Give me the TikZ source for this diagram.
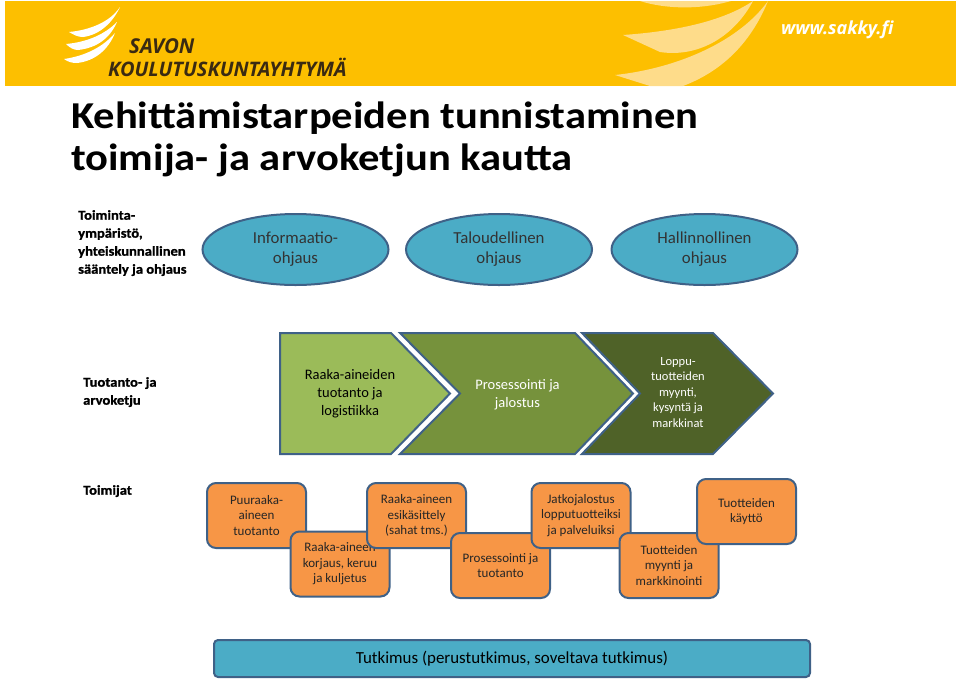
\documentclass[tikz,border=0pt]{standalone}
\usepackage{fontspec}
\setmainfont{Carlito}
\newfontfamily\logofont{Open Sans}
\newfontfamily\titlefont[FakeStretch=1.12]{Carlito Bold}
\newfontfamily\labelfont[FakeStretch=1.08,FakeBold=1.2]{Carlito Bold}
\usetikzlibrary{shapes.geometric}

\definecolor{bannerYellow}{HTML}{FDBF00}
\definecolor{swooshLight}{HTML}{FEDC8A}
\definecolor{logoBrown}{HTML}{3A2A12}
\definecolor{edgeBlue}{HTML}{3F6187}
\definecolor{ovalBlue}{HTML}{4BACC6}
\definecolor{boxOrange}{HTML}{F79646}
\definecolor{chevLight}{HTML}{9BBB59}
\definecolor{chevMiddle}{HTML}{76923C}
\definecolor{chevDark}{HTML}{4F6228}

\newcommand*{\chevTop}{333}
\newcommand*{\chevMid}{393.5}
\newcommand*{\chevBot}{454}

\tikzset{
    oval/.style={ellipse,draw=edgeBlue,line width=2pt,fill=ovalBlue,minimum width=186pt,minimum height=71pt,
        inner sep=0pt,align=center,font=\fontsize{16.8}{20}\selectfont,text=black!80},
    actor/.style={rectangle,rounded corners=9pt,draw=edgeBlue,line width=2pt,fill=boxOrange,minimum width=99pt,
        minimum height=65pt,inner sep=0pt,align=center,font=\fontsize{13}{15.5}\selectfont,text=black!85},
    rowlabel/.style={anchor=north west,inner sep=0pt,align=left,font=\labelfont\fontsize{13.5}{18}\selectfont},
    logotext/.style={anchor=west,inner sep=0pt,font=\logofont\fontsize{#1}{18}\selectfont\bfseries\itshape},
    chev/.style={draw=edgeBlue,line width=2pt,line join=miter},
    chevtext/.style={inner sep=0pt,align=center}
}

\begin{document}
\begin{tikzpicture}[x=1pt,y=-1pt]
    \useasboundingbox (0,0) rectangle (960,681);

    % banner
    \fill [bannerYellow] (5,1) rectangle (956,86);
    \fill [swooshLight] (640,1) .. controls (665,9) and (700,10) .. (731,1) -- cycle;
    \fill [swooshLight] (623,35) .. controls (680,31) and (725,20) .. (753,1) .. controls (735,35) and (700,58) .. (660,52) -- cycle;
    \fill [swooshLight] (615,75) .. controls (680,68) and (740,40) .. (768,1) .. controls (750,45) and (720,72) .. (683,86) -- (650,86) -- cycle;

    % logo
    \fill [white] (120,7) .. controls (110,22) and (90,30) .. (69,32) .. controls (74,35) and (78,37) .. (83,37) .. controls (100,35) and (113,22) .. (120,7) -- cycle;
    \fill [white] (117,22) .. controls (105,34) and (88,42) .. (66,44) .. controls (70,48) and (74,50) .. (78,50) .. controls (97,48) and (110,38) .. (117,22) -- cycle;
    \fill [white] (115,33) .. controls (103,47) and (85,56) .. (64,59) .. controls (68,62) and (72,63) .. (77,63) .. controls (95,61) and (108,50) .. (115,33) -- cycle;
    \node (savon) [logotext=20.5,text=logoBrown] at (129,46) {SAVON};
    \node (kuntayhtyma) [logotext=20,text=logoBrown] at (108,67.5) {KOULUTUSKUNTAYHTYMÄ};
    \node (www) [logotext=18,text=white] at (781,30) {www.sakky.fi};

    % title
    \node (title) [anchor=north west,inner sep=0pt,align=left,font=\titlefont\fontsize{38}{41.5}\selectfont] at (71,102) {Kehittämistarpeiden tunnistaminen\\toimija- ja arvoketjun kautta};

    % row labels
    \node (ymparisto) [rowlabel] at (78,210) {Toiminta-\\ympäristö,\\yhteiskunnallinen\\sääntely ja ohjaus};
    \node (tuotanto) [rowlabel] at (83,377) {Tuotanto- ja\\arvoketju};
    \node (toimijat) [rowlabel] at (83,485) {Toimijat};

    % ovals
    \node (informaatio) [oval] at (295.5,249.5) {Informaatio-\\ohjaus};
    \node (taloudellinen) [oval] at (499,249.5) {Taloudellinen\\ohjaus};
    \node (hallinnollinen) [oval] at (704.5,249.5) {Hallinnollinen\\ohjaus};

    % chevrons
    \draw [chev,fill=chevLight] (280,\chevTop) -- (391,\chevTop) -- (450,\chevMid) -- (391,\chevBot) -- (280,\chevBot) -- cycle;
    \draw [chev,fill=chevMiddle] (400,\chevTop) -- (575,\chevTop) -- (633,\chevMid) -- (575,\chevBot) -- (400,\chevBot) -- (460,\chevMid) -- cycle;
    \draw [chev,fill=chevDark] (582,\chevTop) -- (713,\chevTop) -- (773,\chevMid) -- (713,\chevBot) -- (582,\chevBot) -- (640,\chevMid) -- cycle;
    \node (raaka) [chevtext,font=\fontsize{14.5}{18}\selectfont] at (350,393.5) {Raaka-aineiden\\tuotanto ja\\logistiikka};
    \node (prosessointi) [chevtext,text=white,font=\fontsize{14.5}{18}\selectfont] at (517.5,394.5) {Prosessointi ja\\jalostus};
    \node (loppu) [chevtext,text=white,font=\fontsize{12.5}{15.5}\selectfont] at (678,392.5) {Loppu-\\tuotteiden\\myynti,\\kysyntä ja\\markkinat};

    % actors, later ones cover the earlier ones
    \node (puuraaka) [actor] at (256.5,515.5) {Puuraaka-\\aineen\\tuotanto};
    \node (korjaus) [actor] at (340,564) {Raaka-aineen\\korjaus, keruu\\ja kuljetus};
    \node (esikasittely) [actor] at (416.5,515.5) {Raaka-aineen\\esikäsittely\\(sahat tms.)};
    \node (jalostus) [actor] at (500.5,565.5) {Prosessointi ja\\tuotanto};
    \node (jatko) [actor] at (581,515.5) {Jatkojalostus\\lopputuotteiksi\\ja palveluiksi};
    \node (myynti) [actor] at (669,565.5) {Tuotteiden\\myynti ja\\markkinointi};
    \node (kaytto) [actor] at (746.5,511.5) {Tuotteiden\\käyttö};

    % research bar
    \node (tutkimus) [rectangle,rounded corners=4pt,draw=edgeBlue,line width=2pt,fill=ovalBlue,minimum width=596pt,minimum height=37pt,
        inner sep=0pt,font=\fontsize{16.9}{20}\selectfont] at (512,658.5) {\raisebox{-1.5pt}{Tutkimus (perustutkimus, soveltava tutkimus)}};
\end{tikzpicture}
\end{document}
